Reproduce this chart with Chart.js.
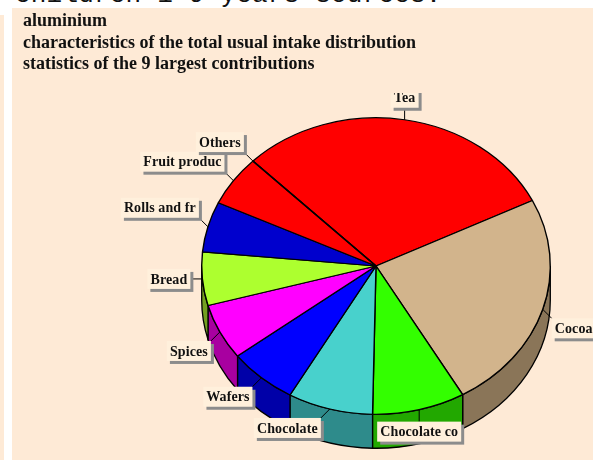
<!DOCTYPE html>
<html>
<head>
<meta charset="utf-8">
<title>aluminium</title>
<script src="https://cdn.jsdelivr.net/npm/chart.js@4"></script>
<style>
    body{ margin:0; background:#fff; width:593px; height:460px; overflow:hidden; position:relative; }
    #strip{ position:absolute; left:0; top:15px; width:4px; height:445px; background:#feead6; }
    #panel{ position:absolute; left:12px; top:8px; width:581px; height:452px; background:#feead6; }
    #caption{ position:absolute; left:15px; top:0; width:560px; height:8px; overflow:hidden; }
    #caption span{ position:absolute; left:0; top:-20px; font:26px/30px "Liberation Mono", monospace; letter-spacing:0.2px; color:#111; white-space:pre; }
    #myChart{ position:absolute; left:0; top:0; }
</style>
</head>
<body>
<div id="strip"></div>
<div id="panel"></div>
<div id="caption"><span>children 1-9 years sources:</span></div>
<canvas id="myChart" width="593" height="460"></canvas>

<script>
let titleLines = ["aluminium","characteristics of the total usual intake distribution","statistics of the 9 largest contributions"];
let categorias = ["Tea","Cocoa","Chocolate co","Chocolate","Wafers","Spices","Bread","Rolls and fr","Fruit produc","Others"];
let valores = [30.2,24.0,8.6,7.9,6.4,6.1,5.8,5.5,5.5,0.02];
let coloresTapa = ["#ff0000","#d2b48c","#33ff00","#48d1cc","#0000ff","#ff00ff","#adff2f","#0000cd","#ff0000","#ff0000"];
let coloresLado = ["#a80000","#8a7558","#22a800","#2e8b8b","#0000a8","#a800a0","#739f20","#000088","#a80000","#a80000"];

const aplaste = 148/174;
const profundidad = 34;
const fondoEtiqueta = "#fff0dc";
const sombraEtiqueta = "#8c8c8c";

// dibuja los lados del pie y aplasta la tapa en una elipse
const pie3d = {
    id:"pie3d",
    beforeDatasetsDraw(chart){
        const ctx = chart.ctx;
        const arcos = chart.getDatasetMeta(0).data;

        ctx.save();
        ctx.strokeStyle = "#000";
        ctx.lineWidth = 1.3;
        arcos.forEach((arco,i) => {
            // solo la mitad delantera tiene lado visible
            const desde = Math.max(arco.startAngle,0);
            const hasta = Math.min(arco.endAngle,Math.PI);
            if(hasta <= desde){
                return;
            }
            const rx = arco.outerRadius;
            const ry = rx*aplaste;
            ctx.beginPath();
            ctx.ellipse(arco.x,arco.y,rx,ry,0,desde,hasta);
            ctx.ellipse(arco.x,arco.y + profundidad,rx,ry,0,hasta,desde,true);
            ctx.closePath();
            ctx.fillStyle = coloresLado[i];
            ctx.fill();
            ctx.stroke();
        });
        ctx.restore();

        const centro = arcos[0];
        ctx.save();
        ctx.translate(centro.x,centro.y);
        ctx.scale(1,aplaste);
        ctx.translate(-centro.x,-centro.y);
    },
    afterDatasetsDraw(chart){
        chart.ctx.restore();
    },
    afterDraw(chart){
        const ctx = chart.ctx;
        ctx.save();
        ctx.fillStyle = "#111";
        ctx.font = "bold 18px 'Liberation Serif', serif";
        ctx.textBaseline = "alphabetic";
        titleLines.forEach((linea,i) => ctx.fillText(linea,23,26 + i*21.5));

        // la etiqueta de arriba queda cortada por el borde del grafico
        ctx.beginPath();
        ctx.rect(0,93,chart.width,chart.height);
        ctx.clip();
        chart.getDatasetMeta(0).data.forEach((arco,i) => etiqueta(ctx,arco,categorias[i]));
        ctx.restore();
    }
};

function etiqueta(ctx,arco,texto){
    const medio = (arco.startAngle + arco.endAngle)/2;
    const cos = Math.cos(medio);
    const sin = Math.sin(medio);
    const px = arco.x + arco.outerRadius*cos;
    const py = arco.y + arco.outerRadius*aplaste*sin;

    // la linea sale en una de las ocho direcciones
    let dx = Math.abs(cos) < 0.26 ? 0 : Math.sign(cos);
    let dy = Math.abs(sin) < 0.26 ? 0 : Math.sign(sin);
    const largo = dx !== 0 && dy !== 0 ? 9 : 12;
    const fx = px + dx*largo;
    const fy = py + dy*largo;

    ctx.strokeStyle = "#000";
    ctx.lineWidth = 1;
    ctx.beginPath();
    ctx.moveTo(px,py);
    ctx.lineTo(fx,fy);
    ctx.stroke();

    ctx.font = "bold 14px 'Liberation Serif', serif";
    ctx.letterSpacing = "0.1px";
    const ancho = Math.round(ctx.measureText(texto).width) + 6;
    const alto = 20;
    const bx = dx === 0 ? fx - ancho/2 : (dx < 0 ? fx - ancho : fx);
    const by = dy === 0 ? fy - alto/2 : (dy < 0 ? fy - alto : fy);

    ctx.fillStyle = sombraEtiqueta;
    ctx.fillRect(bx + 3,by + 3,ancho,alto);
    ctx.fillStyle = fondoEtiqueta;
    ctx.fillRect(bx,by,ancho,alto);
    ctx.fillStyle = "#111";
    ctx.textAlign = "center";
    ctx.textBaseline = "middle";
    ctx.fillText(texto,bx + ancho/2,by + alto/2 + 1);
}

new Chart(document.querySelector("#myChart"),{
    type:"pie",
    data:{
        labels:categorias,
        datasets:[{
            data:valores,
            backgroundColor:coloresTapa,
            borderColor:"#000",
            borderWidth:1.4,
            borderAlign:"center"
        }]
    },
    options:{
        responsive:false,
        animation:false,
        rotation:-44.9,
        layout:{ padding:{ left:201, right:42, top:91, bottom:19 } },
        plugins:{ legend:{ display:false }, tooltip:{ enabled:false } }
    },
    plugins:[pie3d]
});
</script>
</body>
</html>
